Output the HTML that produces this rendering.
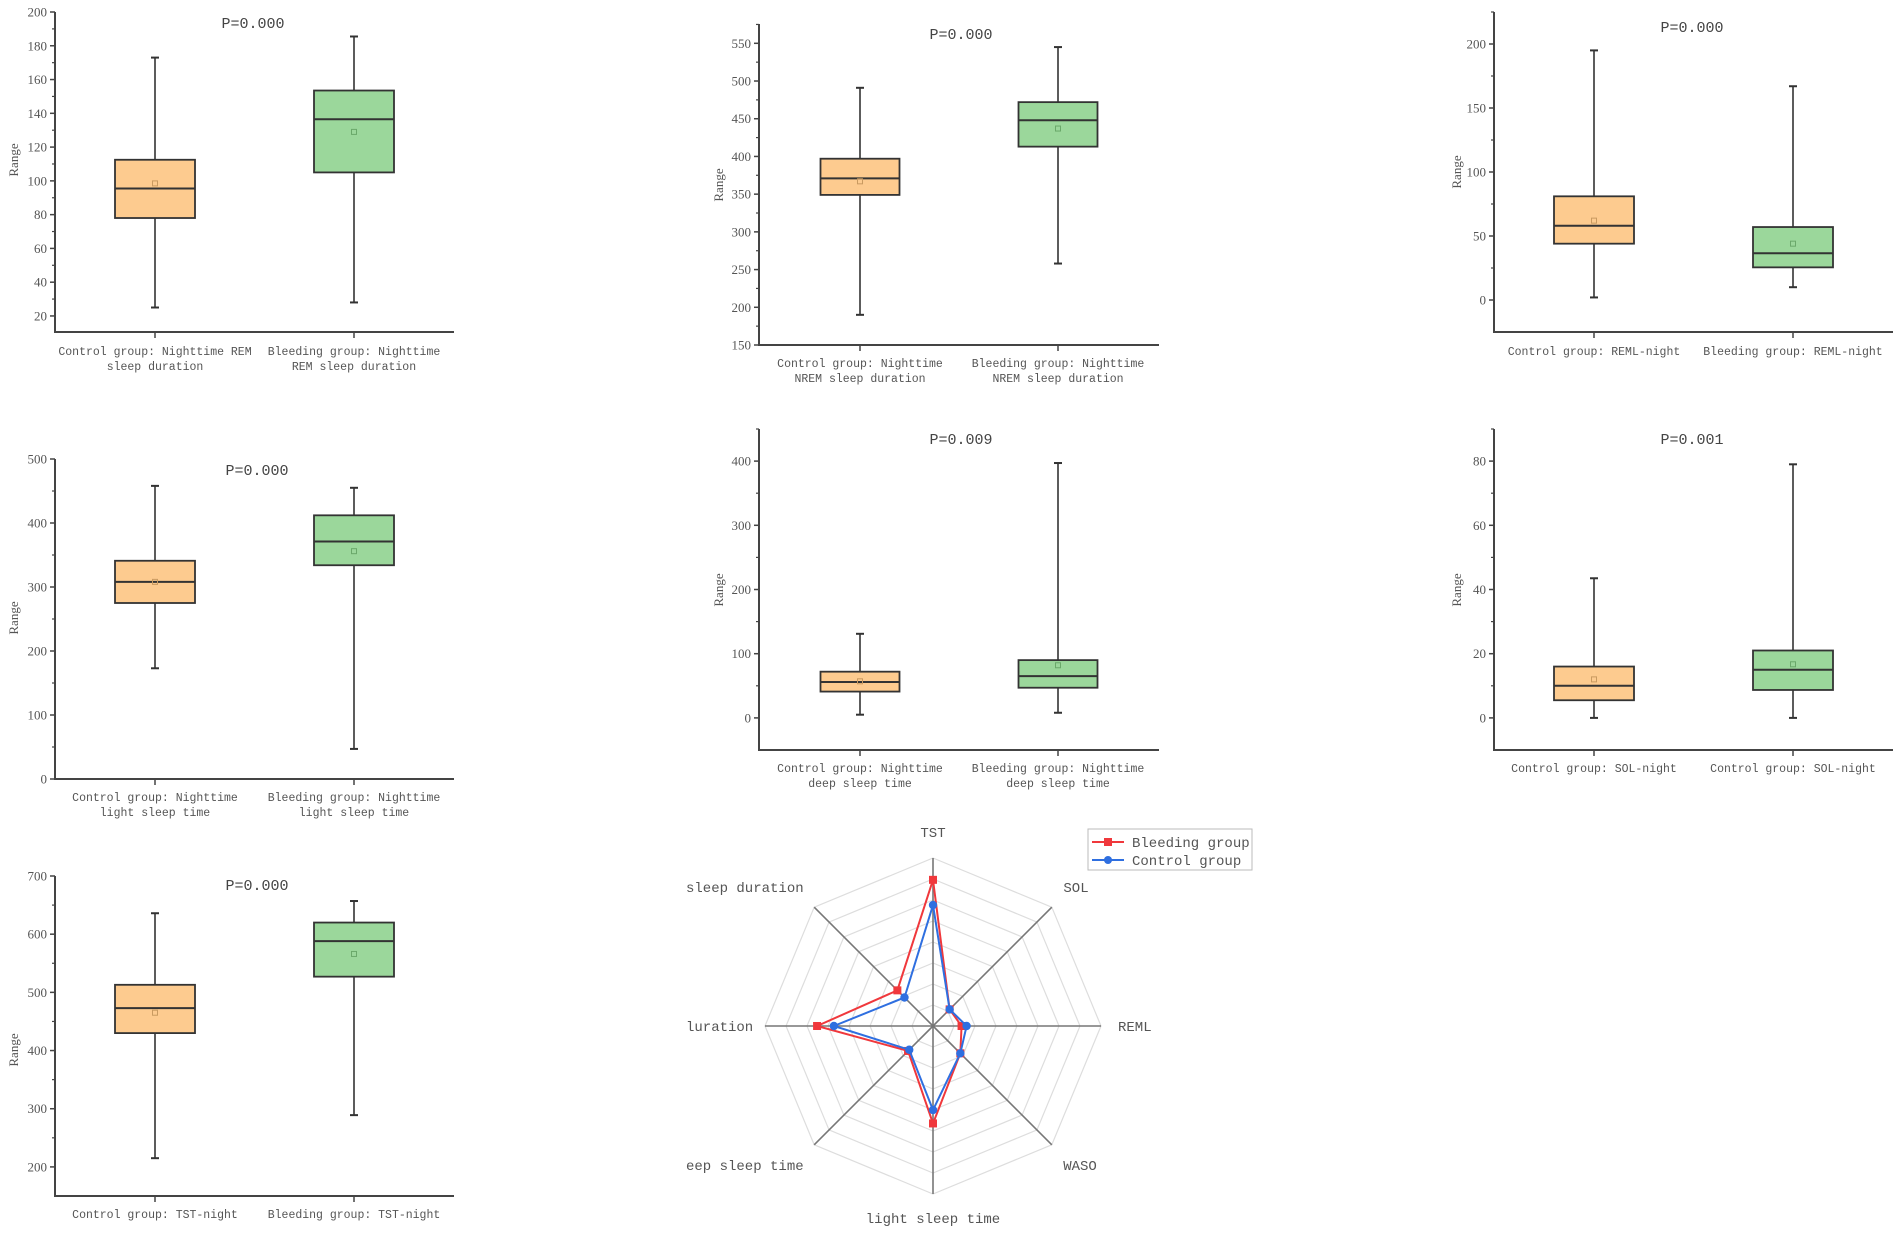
<!DOCTYPE html>
<html><head><meta charset="utf-8"><style>
html,body{margin:0;padding:0;background:#fff;}
svg{display:block;}
text{font-family:"Liberation Mono","Noto Sans CJK SC",monospace;fill:#555;}
.tk{font-family:"Liberation Serif","Noto Serif CJK SC",serif;font-size:13px;}
.pl{font-family:"Liberation Mono","Noto Sans CJK SC",monospace;font-size:15px;fill:#444;}
.xl{font-size:11.5px;}
</style></head><body>
<svg id="chart" width="1902" height="1235" viewBox="0 0 1902 1235" xmlns="http://www.w3.org/2000/svg"></svg>
<script>
// ---- Panel data (box stats: [control, bleeding]) ----
const p1Lo=[25,28], p1Q1=[78,105], p1Med=[95.5,136.5], p1Q3=[112.5,153.5], p1Hi=[173,185.5], p1Mean=[98.5,129];
const p1Ticks=[20,40,60,80,100,120,140,160,180,200];
const p1Labels=[["Control group: Nighttime REM","sleep duration"],["Bleeding group: Nighttime","REM sleep duration"]];

const p2Lo=[190,258], p2Q1=[349,413], p2Med=[371,448], p2Q3=[397,472], p2Hi=[491,545], p2Mean=[367,437];
const p2Ticks=[150,200,250,300,350,400,450,500,550];
const p2Labels=[["Control group: Nighttime","NREM sleep duration"],["Bleeding group: Nighttime","NREM sleep duration"]];

const p3Lo=[2,10], p3Q1=[44,25.5], p3Med=[58,36.5], p3Q3=[81,57], p3Hi=[195,167], p3Mean=[62,44];
const p3Ticks=[0,50,100,150,200];
const p3Labels=[["Control group: REML-night"],["Bleeding group: REML-night"]];

const p4Lo=[173,47], p4Q1=[275,334], p4Med=[308,371], p4Q3=[341,412], p4Hi=[458,455], p4Mean=[308,356];
const p4Ticks=[0,100,200,300,400,500];
const p4Labels=[["Control group: Nighttime","light sleep time"],["Bleeding group: Nighttime","light sleep time"]];

const p5Lo=[5,8], p5Q1=[41,47], p5Med=[56,65], p5Q3=[72,90], p5Hi=[131,397], p5Mean=[57,82];
const p5Ticks=[0,100,200,300,400];
const p5Labels=[["Control group: Nighttime","deep sleep time"],["Bleeding group: Nighttime","deep sleep time"]];

const p6Lo=[0,0], p6Q1=[5.5,8.7], p6Med=[10,15], p6Q3=[16,21], p6Hi=[43.5,79], p6Mean=[12,16.7];
const p6Ticks=[0,20,40,60,80];
const p6Labels=[["Control group: SOL-night"],["Control group: SOL-night"]];

const p7Lo=[215,289], p7Q1=[430,527], p7Med=[473,588], p7Q3=[513,620], p7Hi=[636,657], p7Mean=[465,566];
const p7Ticks=[200,300,400,500,600,700];
const p7Labels=[["Control group: TST-night"],["Bleeding group: TST-night"]];

const pValues=["P=0.000","P=0.000","P=0.000","P=0.000","P=0.009","P=0.001","P=0.000"];

// ---- Radar data (fraction of full radius) ----
const radarAxes=["TST","SOL","REML","WASO","light sleep time","eep sleep time","luration","sleep duration"];
const radarBleeding=[0.87,0.14,0.17,0.23,0.58,0.21,0.69,0.30];
const radarControl=[0.72,0.14,0.20,0.23,0.50,0.20,0.59,0.24];

const NS="http://www.w3.org/2000/svg";
const svg=document.getElementById('chart');
function mk(tag,attrs,parent){const e=document.createElementNS(NS,tag);for(const k in attrs)e.setAttribute(k,attrs[k]);(parent||svg).appendChild(e);return e;}

const layouts=[
 {ax:55,xEnd:454,top:12,bottom:332,vTop:200,vBot:10.5,cx:[155,354],bw:80,px:253,py:23,ly:351,ry:160,rx:14},
 {ax:759,xEnd:1159,top:24,bottom:345,vTop:575.6,vBot:150,cx:[860,1058],bw:79,px:961,py:34,ly:363,ry:185,rx:719},
 {ax:1494,xEnd:1893,top:12,bottom:332,vTop:225,vBot:-25,cx:[1594,1793],bw:80,px:1692,py:27,ly:351,ry:172,rx:1457},
 {ax:55,xEnd:454,top:459,bottom:779,vTop:500,vBot:0,cx:[155,354],bw:80,px:257,py:470,ly:797,ry:618,rx:14},
 {ax:759,xEnd:1159,top:429,bottom:750,vTop:450,vBot:-50,cx:[860,1058],bw:79,px:961,py:439,ly:768,ry:590,rx:719},
 {ax:1494,xEnd:1893,top:429,bottom:750,vTop:90,vBot:-10,cx:[1594,1793],bw:80,px:1692,py:439,ly:768,ry:590,rx:1457},
 {ax:55,xEnd:454,top:876,bottom:1196,vTop:700,vBot:150,cx:[155,354],bw:80,px:257,py:885,ly:1214,ry:1050,rx:14}
];
const panels=[
 [p1Lo,p1Q1,p1Med,p1Q3,p1Hi,p1Mean,p1Ticks,p1Labels],
 [p2Lo,p2Q1,p2Med,p2Q3,p2Hi,p2Mean,p2Ticks,p2Labels],
 [p3Lo,p3Q1,p3Med,p3Q3,p3Hi,p3Mean,p3Ticks,p3Labels],
 [p4Lo,p4Q1,p4Med,p4Q3,p4Hi,p4Mean,p4Ticks,p4Labels],
 [p5Lo,p5Q1,p5Med,p5Q3,p5Hi,p5Mean,p5Ticks,p5Labels],
 [p6Lo,p6Q1,p6Med,p6Q3,p6Hi,p6Mean,p6Ticks,p6Labels],
 [p7Lo,p7Q1,p7Med,p7Q3,p7Hi,p7Mean,p7Ticks,p7Labels]
];
const fills=["#fdcb8f","#9bd79b"];

panels.forEach((p,i)=>{
 const L=layouts[i];
 const [lo,q1,med,q3,hi,mean,ticks,labels]=p;
 const y=v=>L.bottom-(v-L.vBot)/(L.vTop-L.vBot)*(L.bottom-L.top);
 const g=mk('g',{});
 
 
 const ya=mk('line',{x1:L.ax,y1:L.top,x2:L.ax,y2:L.bottom,stroke:'#444','stroke-width':2},g);
 
 
 const xa=mk('line',{x1:L.ax-1,y1:L.bottom,x2:L.xEnd,y2:L.bottom,stroke:'#444','stroke-width':2},g);
 
 
 const step=ticks[1]-ticks[0];
 ticks.forEach(t=>{
  const ty=y(t);
  mk('line',{x1:L.ax-5,y1:ty,x2:L.ax,y2:ty,stroke:'#444','stroke-width':1.5},g);
  const m=t+step/2; if(m<=L.vTop) mk('line',{x1:L.ax-3,y1:y(m),x2:L.ax,y2:y(m),stroke:'#444','stroke-width':1.2},g);
  const tl=mk('text',{x:L.ax-8,y:ty+4.5,'text-anchor':'end',class:'tk'},g);
  
  
  tl.textContent=t;
 });
 const yl=mk('text',{x:L.rx+4,y:L.ry,'text-anchor':'middle',class:'tk',transform:`rotate(-90 ${L.rx+4} ${L.ry})`,'font-size':'14px'},g);
 
 
 yl.textContent='Range';
 const pl=mk('text',{x:L.px,y:L.py+5,'text-anchor':'middle',class:'pl'},g);
 
 
 pl.textContent=pValues[i];
 for(let k=0;k<2;k++){
  const cx=L.cx[k],hw=L.bw/2;
  mk('line',{x1:cx,y1:L.bottom,x2:cx,y2:L.bottom+6,stroke:'#444','stroke-width':1.5},g);
  const w=mk('line',{x1:cx,y1:y(hi[k]),x2:cx,y2:y(lo[k]),stroke:'#333','stroke-width':1.6},g);
  
  
  mk('line',{x1:cx-4,y1:y(hi[k]),x2:cx+4,y2:y(hi[k]),stroke:'#333','stroke-width':2},g);
  mk('line',{x1:cx-4,y1:y(lo[k]),x2:cx+4,y2:y(lo[k]),stroke:'#333','stroke-width':2},g);
  const b=mk('rect',{x:cx-hw,y:y(q3[k]),width:L.bw,height:y(q1[k])-y(q3[k]),fill:fills[k],stroke:'#333','stroke-width':1.8},g);
  
  
  const md=mk('line',{x1:cx-hw,y1:y(med[k]),x2:cx+hw,y2:y(med[k]),stroke:'#333','stroke-width':2},g);
  
  
  const mn=mk('rect',{x:cx-2.5,y:y(mean[k])-2.5,width:5,height:5,fill:'none',stroke:k?'#6aa86a':'#c99a60','stroke-width':1},g);
  
  
  labels[k].forEach((s,j)=>{
   const t=mk('text',{x:cx,y:L.ly+4+j*15,'text-anchor':'middle',class:'xl'},g);
   
   
   t.textContent=s;
  });
 }
});

// ---- Radar ----
const RC={x:933,y:1026,rx:168,ry:168};
const rg=mk('g',{});


const n=radarAxes.length;
const pt=(i,f)=>{const a=-Math.PI/2+i*2*Math.PI/n;return [RC.x+Math.cos(a)*RC.rx*f,RC.y+Math.sin(a)*RC.ry*f];};
for(let r=1;r<=8;r++){
 const pts=radarAxes.map((_,i)=>pt(i,r/8).join(',')).join(' ');
 const ring=mk('polygon',{points:pts,fill:'none',stroke:'#ddd','stroke-width':1.2},rg);
 
 
}
radarAxes.forEach((_,i)=>{
 const [x,y]=pt(i,1);
 const ax=mk('line',{x1:RC.x,y1:RC.y,x2:x,y2:y,stroke:'#777','stroke-width':1.6},rg);
 
 
});
const lblPos=[[933,837,'middle'],[1076,892,'middle'],[1118,1031,'start'],[1080,1170,'middle'],[933,1223,'middle'],[686,1170,'start'],[686,1031,'start'],[686,892,'start']];
radarAxes.forEach((s,i)=>{
 const t=mk('text',{x:lblPos[i][0],y:lblPos[i][1],'text-anchor':lblPos[i][2],'font-size':'14px'},rg);
 
 
 t.textContent=s;
});
function series(vals,color,name,square){
 const pts=vals.map((v,i)=>pt(i,v));
 const pg=mk('polygon',{points:pts.map(p=>p.join(',')).join(' '),fill:'none',stroke:color,'stroke-width':2},rg);
 
 
 pts.forEach(p=>{
  const m=square?mk('rect',{x:p[0]-4,y:p[1]-4,width:8,height:8,fill:color},rg):mk('circle',{cx:p[0],cy:p[1],r:4.2,fill:color},rg);
  
  
 });
}
series(radarBleeding,'#f0383c','bleeding',true);
series(radarControl,'#2f6fe0','control',false);
const lg=mk('g',{});


mk('rect',{x:1088,y:829,width:164,height:41,fill:'#fff',stroke:'#bbb','stroke-width':1},lg);
[['Bleeding group','#f0383c',842,true],['Control group','#2f6fe0',860,false]].forEach(e=>{
 const it=mk('g',{},lg);
 
 
 mk('line',{x1:1092,y1:e[2],x2:1124,y2:e[2],stroke:e[1],'stroke-width':2},it);
 if(e[3]) mk('rect',{x:1104,y:e[2]-4,width:8,height:8,fill:e[1]},it); else mk('circle',{cx:1108,cy:e[2],r:4,fill:e[1]},it);
 const t=mk('text',{x:1132,y:e[2]+5,'font-size':'14px'},it);
 t.textContent=e[0];
});
</script>
</body></html>
